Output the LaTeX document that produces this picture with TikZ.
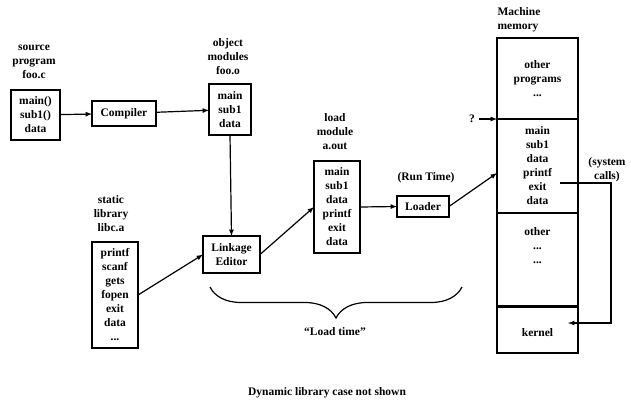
\documentclass[tikz,border=0pt]{standalone}
\usepackage{fontspec}
\setmainfont{Liberation Serif}
\usetikzlibrary{positioning,decorations.pathreplacing}

\begin{document}
\begin{tikzpicture}[x=1pt, y=-1pt, line width=1.2pt,
  every node/.style={font=\fontsize{11.5}{14}\selectfont\bfseries, align=center},
  box/.style={draw, inner sep=0pt, outer sep=0pt},
  lbl/.style={inner sep=0pt}]

  \useasboundingbox (0,0) rectangle (631,402);

  % labels above the boxes
  \node [lbl] (srclbl) at (34,62)   {source\\program\\foo.c};
  \node [lbl] (objlbl) at (228,57)  {object\\modules\\foo.o};
  \node [lbl] (liblbl) at (111,214) {static\\library\\libc.a};
  \node [lbl] (ldlbl)  at (335,132) {load\\module\\a.out};
  \node [lbl] (runlbl) at (426,178) {(Run Time)};
  \node [lbl, align=left, anchor=west] (memlbl) at (497,20) {Machine\\memory};

  % boxes
  \node [box, minimum width=49pt, minimum height=50pt]  (src)    at (35.5,115)   {main()\\sub1()\\data};
  \node [box, minimum width=64pt, minimum height=25pt]  (comp)   at (124,113.5)  {Compiler};
  \node [box, minimum width=42pt, minimum height=51pt]  (obj)    at (230,109.5)  {main\\sub1\\data};
  \node [box, minimum width=57pt, minimum height=37pt]  (link)   at (231.5,254.5) {Linkage\\Editor};
  \node [box, minimum width=46pt, minimum height=106pt] (lib)    at (115,295)    {printf\\scanf\\gets\\fopen\\exit\\data\\...};
  \node [box, minimum width=46pt, minimum height=92pt]  (load)   at (337,207)    {main\\sub1\\data\\printf\\exit\\data};
  \node [box, minimum width=52pt, minimum height=21pt]  (loader) at (423,206.5)  {Loader};

  % machine memory, top to bottom
  \node [box, minimum width=81pt, minimum height=81pt] (othr) at (537.5,78.5) {other\\programs\\...};
  \node [box, minimum width=81pt, minimum height=94pt, below=0pt of othr]  (prog)  {main\\sub1\\data\\printf\\exit\\data};
  \node [box, minimum width=81pt, minimum height=93pt, below=0pt of prog]  (othr2) {other\\...\\...\\~\\~};
  \node [box, minimum width=81pt, minimum height=47pt, below=0pt of othr2] (kern)  {\\kernel};
  \draw [line width=3pt] (othr2.south west) -- (othr2.south east);

  \draw [-latex] (src) -- (comp);
  \draw [-latex] (comp) -- (obj);
  \draw [-latex] (obj.south) -- (link.north);
  \draw [-latex] (lib.east) -- (link.west);
  \draw [-latex] (link.east) -- (load.west);
  \draw [-latex] (load.east) -- (loader.west);

  \coordinate (ldin) at (497,173);
  \draw [-latex] (loader.east) -- (ldin);

  \node (q) at (472,119) {?};
  \draw [-latex] (q) -- (prog.north west);

  % system calls
  \coordinate (sysout) at (560,183);
  \coordinate (sysin)  at (568,323);
  \draw [-latex] (sysout) -- ++(51,0) |- (sysin);
  \node [lbl] (syslbl) at (607,170) {(system\\calls)};

  % load time
  \coordinate (bl) at (210,287);
  \coordinate (br) at (462,287);
  \draw [decorate, decoration={brace, mirror, amplitude=31pt}] (bl) -- (br);
  \node (ldtime) at (335,332) {“Load time”};

  \node (dyn) at (327,393) {Dynamic library case not shown};

\end{tikzpicture}
\end{document}
